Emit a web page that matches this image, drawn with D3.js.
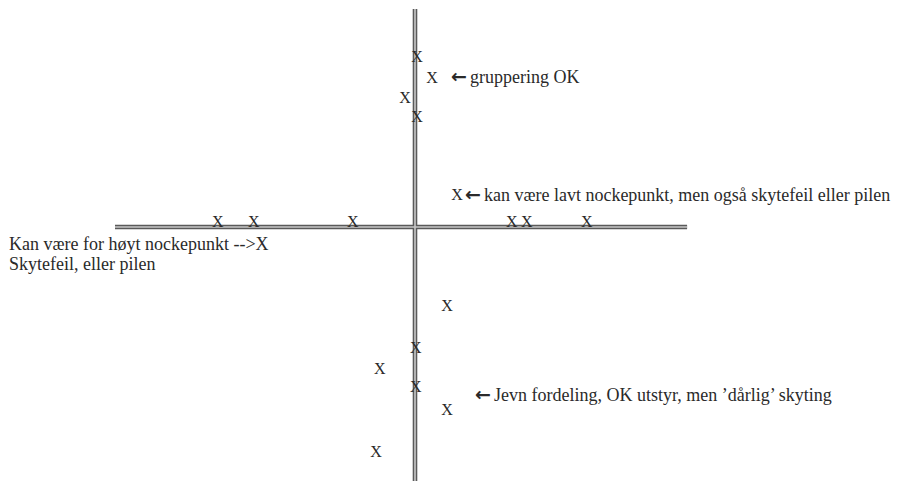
<!DOCTYPE html>
<html>
<head>
<meta charset="utf-8">
<script src="https://cdn.jsdelivr.net/npm/d3@7"></script>
<style>
  body { margin: 0; background: #fff; }
  svg text { font-family: "Liberation Serif", "DejaVu Serif", serif; fill: #2a2a2a; }
  svg tspan.arrow { font-family: "DejaVu Sans", sans-serif; }
</style>
</head>
<body>
<div id="chart"></div>
<script>
// shot positions, in units from the centre of the target cross
let shot_x = [0.07, 0.57, -0.33, 0.07, -6.57, -5.37, -2.07, 3.23, 3.73, 5.73, 1.4, 1.07, 0.03, -1.17, 0.03, 1.07, -1.3]
let shot_y = [5.67, 5.0, 4.33, 3.67, 0.2, 0.2, 0.2, 0.2, 0.2, 0.2, 1.07, -2.63, -4.0, -4.7, -5.33, -6.07, -7.47]

// notes, each starting at an arrow next to a point
let note_text = [
    "gruppering OK",
    "kan v\u00e6re lavt nockepunkt, men ogs\u00e5 skytefeil eller pilen",
    "Jevn fordeling, OK utstyr, men \u2019d\u00e5rlig\u2019 skyting"
]
let note_x = [0.57, 1.4, 2.0]
let note_y = [5.0, 1.07, -5.6]
let left_note = ["Kan v\u00e6re for h\u00f8yt nockepunkt -->X", "Skytefeil, eller pilen"]

let width = 900
let height = 481
let note_gap = [19, 8, 0]

let x = d3.scaleLinear().domain([-10, 10]).range([115, 715])
let y = d3.scaleLinear().domain([-10, 10]).range([527, -73])

let svg = d3.select("#chart").append("svg")
    .attr("width", width)
    .attr("height", height)

// the cross: a double line for each arm
let arms = [
    {x1: -10, y1: 0, x2: 9.07, y2: 0},
    {x1: 0, y1: 7.27, x2: 0, y2: -8.6}
]
let cross = svg.append("g").attr("class", "cross")
cross.selectAll(".outer")
    .data(arms)
    .enter().append("line")
    .attr("x1", (d) => x(d.x1))
    .attr("y1", (d) => y(d.y1))
    .attr("x2", (d) => x(d.x2))
    .attr("y2", (d) => y(d.y2))
    .style("stroke", "#5a5a5a")
    .style("stroke-width", 4.6)
cross.selectAll(".inner")
    .data(arms)
    .enter().append("line")
    .attr("x1", (d) => x(d.x1))
    .attr("y1", (d) => y(d.y1))
    .attr("x2", (d) => x(d.x2))
    .attr("y2", (d) => y(d.y2))
    .style("stroke", "#c8c8c8")
    .style("stroke-width", 1.6)

// the shots, each an X
let shots = shot_x.map((v, i) => ({x: v, y: shot_y[i]}))
svg.selectAll(".shot")
    .data(shots)
    .enter().append("text")
    .attr("class", "shot")
    .attr("x", (d) => x(d.x))
    .attr("y", (d) => y(d.y) + 5.5)
    .attr("text-anchor", "middle")
    .style("font-size", "16px")
    .text("X")

// notes to the right of their point
let notes = svg.selectAll(".note")
    .data(note_text)
    .enter().append("text")
    .attr("class", "note")
    .attr("x", (d, i) => x(note_x[i]) + note_gap[i])
    .attr("y", (d, i) => y(note_y[i]) + 6)
    .style("font-size", "18px")
notes.append("tspan").attr("class", "arrow").style("font-size", "19px").style("font-weight", "bold").text("\u2190")
notes.append("tspan").attr("dx", 3).text((d) => d)

svg.selectAll(".left-note")
    .data(left_note)
    .enter().append("text")
    .attr("class", "left-note")
    .attr("x", 9)
    .attr("y", (d, i) => 250 + i * 20)
    .style("font-size", "18px")
    .text((d) => d)
</script>
</body>
</html>
